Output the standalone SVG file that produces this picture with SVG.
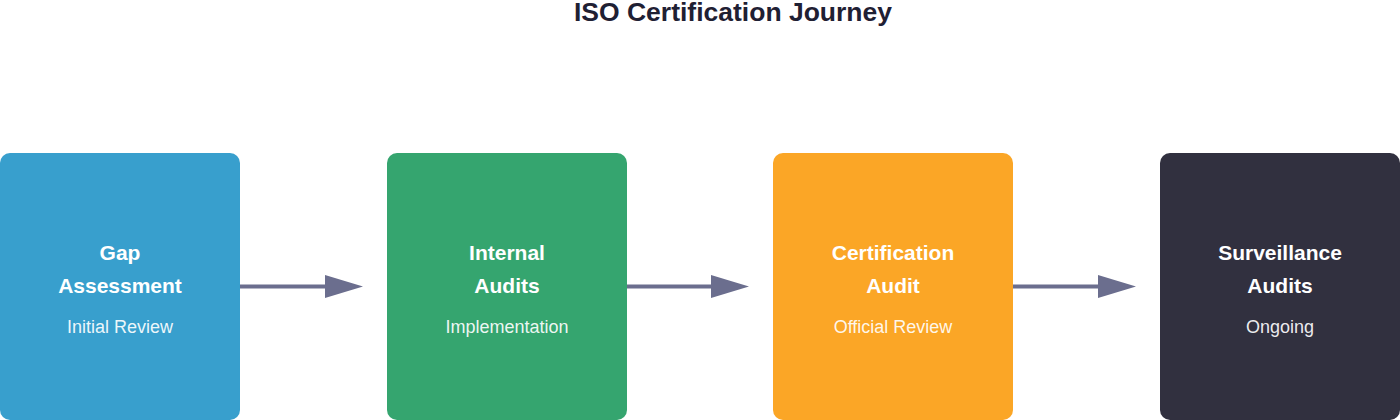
<svg xmlns="http://www.w3.org/2000/svg" width="1400" height="420" viewBox="0 0 1400 420">
<style>
.title{font-family:"Liberation Sans",Arial,sans-serif;font-weight:bold;font-size:26.5px;fill:#1f2033;text-anchor:middle}
.h{font-family:"Liberation Sans",Arial,sans-serif;font-weight:bold;font-size:21px;fill:#ffffff;text-anchor:middle}
.s{font-family:"Liberation Sans",Arial,sans-serif;font-size:18px;fill:#ffffff;fill-opacity:0.92;text-anchor:middle}
.conn{stroke:#6b6e8e;stroke-width:4;fill:none}
.head{fill:#6b6e8e}
</style>
<rect width="1400" height="420" fill="#ffffff"/>
<text class="title" x="733" y="21">ISO Certification Journey</text>
<g id="node-gap">
<rect x="0" y="153" width="240" height="267" rx="10" fill="#389fcd"/>
<text class="h" x="120" y="260">Gap</text>
<text class="h" x="120" y="293">Assessment</text>
<text class="s" x="120" y="333">Initial Review</text>
</g>
<g id="node-internal">
<rect x="387" y="153" width="240" height="267" rx="10" fill="#35a56f"/>
<text class="h" x="507" y="260">Internal</text>
<text class="h" x="507" y="293">Audits</text>
<text class="s" x="507" y="333">Implementation</text>
</g>
<g id="node-cert">
<rect x="773" y="153" width="240" height="267" rx="10" fill="#fba626"/>
<text class="h" x="893" y="260">Certification</text>
<text class="h" x="893" y="293">Audit</text>
<text class="s" x="893" y="333">Official Review</text>
</g>
<g id="node-surv">
<rect x="1160" y="153" width="240" height="267" rx="10" fill="#31303f"/>
<text class="h" x="1280" y="260">Surveillance</text>
<text class="h" x="1280" y="293">Audits</text>
<text class="s" x="1280" y="333">Ongoing</text>
</g>
<g id="connectors">
<line class="conn" x1="240" y1="286.5" x2="327" y2="286.5"/>
<polygon class="head" points="325,275 363,286.5 325,298"/>
<line class="conn" x1="627" y1="286.5" x2="713" y2="286.5"/>
<polygon class="head" points="711,275 749,286.5 711,298"/>
<line class="conn" x1="1013" y1="286.5" x2="1100" y2="286.5"/>
<polygon class="head" points="1098,275 1136,286.5 1098,298"/>
</g>
</svg>
